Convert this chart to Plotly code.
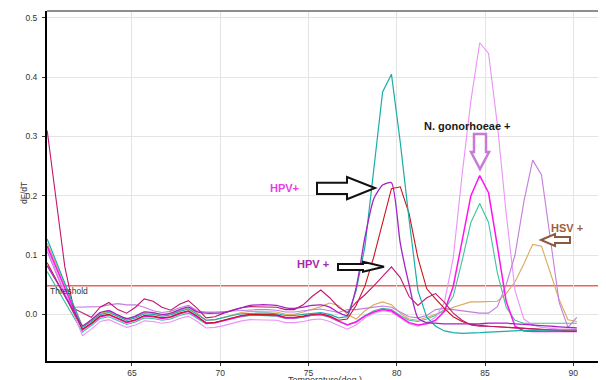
import plotly.graph_objects as go

# ---------------- data ----------------
temperature = [60.2, 60.7, 61.2, 61.7, 62.2, 62.7, 63.2, 63.7, 64.2, 64.7,
               65.2, 65.7, 66.2, 66.7, 67.2, 67.7, 68.2, 68.7, 69.2, 69.7,
               70.2, 70.7, 71.2, 71.7, 72.2, 72.7, 73.2, 73.7, 74.2, 74.7,
               75.2, 75.7, 76.2, 76.7, 77.2, 77.7, 78.2, 78.7, 79.2, 79.7,
               80.2, 80.7, 81.2, 81.7, 82.2, 82.7, 83.2, 83.7, 84.2, 84.7,
               85.2, 85.7, 86.2, 86.7, 87.2, 87.7, 88.2, 88.7, 89.2, 89.7, 90.2]

tan_hsv = [0.120, 0.085, 0.050, 0.015, -0.020, -0.010, 0.002, 0.005, -0.002, -0.008,
           -0.004, 0.003, 0.002, -0.001, 0.001, 0.007, 0.011, 0.002, -0.010, -0.009,
           -0.005, -0.001, 0.003, 0.005, 0.005, 0.005, 0.004, 0.000, 0.000, 0.004,
           0.008, 0.013, 0.019, 0.015, 0.000, -0.008, 0.006, 0.016, 0.021, 0.016,
           0.002, -0.008, -0.010, -0.005, 0.000, 0.005, 0.012, 0.017, 0.021, 0.021,
           0.021, 0.022, 0.035, 0.055, 0.085, 0.118, 0.115, 0.068, 0.025, -0.009, -0.012]

seagreen = [0.072, 0.047, 0.021, -0.005, -0.030, -0.019, -0.007, -0.004, -0.011, -0.017,
            -0.013, -0.006, -0.007, -0.010, -0.008, -0.002, 0.002, -0.007, -0.016, -0.014,
            -0.010, -0.006, -0.004, -0.002, -0.002, -0.002, -0.003, -0.007, -0.007, -0.005,
            -0.002, -0.001, -0.005, -0.012, -0.018, -0.012, -0.002, 0.006, 0.010, 0.008,
            -0.002, -0.010, -0.012, -0.008, -0.002, 0.008, 0.030, 0.090, 0.155, 0.187,
            0.155, 0.070, 0.012, -0.010, -0.015, -0.015, -0.015, -0.015, -0.015, -0.015, -0.015]

violet = [0.110, 0.074, 0.037, 0.000, -0.036, -0.025, -0.012, -0.009, -0.016, -0.022,
          -0.018, -0.011, -0.012, -0.015, -0.013, -0.007, -0.003, -0.012, -0.023, -0.022,
          -0.019, -0.015, -0.011, -0.009, -0.009, -0.009, -0.010, -0.014, -0.014, -0.012,
          -0.009, -0.008, -0.012, -0.019, -0.025, -0.018, -0.006, 0.002, 0.006, 0.004,
          -0.006, -0.016, -0.020, -0.014, -0.005, 0.020, 0.095, 0.235, 0.360, 0.458,
          0.440, 0.320, 0.170, 0.040, -0.008, -0.018, -0.022, -0.024, -0.025, -0.025, -0.025]

medium_purple = [0.106, 0.070, 0.033, 0.012, 0.012, 0.012, 0.013, 0.016, 0.018, 0.016,
                 0.016, 0.012, 0.006, 0.003, 0.005, 0.011, 0.015, 0.006, 0.004, 0.004,
                 0.005, 0.006, 0.007, 0.008, 0.008, 0.008, 0.007, 0.004, 0.004, 0.006,
                 0.008, 0.009, 0.006, 0.003, 0.008, 0.008, 0.010, 0.012, 0.014, 0.012,
                 0.004, -0.004, -0.006, -0.002, 0.008, 0.010, 0.008, 0.006, 0.004, 0.002,
                 0.002, 0.013, 0.050, 0.100, 0.190, 0.260, 0.235, 0.130, 0.020, -0.022, -0.005]

magenta = [0.115, 0.080, 0.045, 0.009, -0.026, -0.016, -0.004, -0.001, -0.008, -0.014,
           -0.010, -0.003, -0.004, -0.007, -0.005, 0.001, 0.005, -0.004, -0.014, -0.014,
           -0.011, -0.007, -0.003, -0.001, -0.001, -0.001, -0.002, -0.006, -0.006, -0.004,
           -0.001, 0.000, -0.004, -0.011, -0.018, -0.013, -0.003, 0.004, 0.008, 0.006,
           -0.004, -0.014, -0.018, -0.016, -0.010, 0.005, 0.047, 0.125, 0.200, 0.234,
           0.205, 0.115, 0.022, -0.020, -0.028, -0.029, -0.029, -0.029, -0.029, -0.029, -0.029]

dark_red = [0.087, 0.059, 0.031, 0.003, -0.025, -0.015, -0.003, 0.000, -0.007, -0.013,
            -0.009, -0.002, -0.003, -0.006, -0.004, 0.002, 0.006, -0.003, -0.015, -0.014,
            -0.010, -0.006, -0.002, 0.000, 0.000, 0.000, -0.001, -0.005, -0.005, -0.003,
            0.000, 0.001, -0.003, -0.010, -0.008, 0.015, 0.048, 0.097, 0.155, 0.212,
            0.215, 0.170, 0.095, 0.043, 0.026, 0.010, -0.004, -0.012, -0.017, -0.019,
            -0.020, -0.021, -0.022, -0.022, -0.023, -0.024, -0.025, -0.026, -0.027, -0.028, -0.028]

dark_magenta = [0.310, 0.195, 0.080, 0.010, 0.002, -0.005, 0.012, 0.020, 0.008, 0.002,
                0.012, 0.026, 0.022, 0.012, 0.007, 0.017, 0.023, 0.010, -0.006, -0.004,
                0.002, 0.007, 0.011, 0.013, 0.013, 0.013, 0.012, 0.008, 0.008, 0.016,
                0.030, 0.041, 0.028, 0.012, 0.003, 0.020, 0.033, 0.048, 0.064, 0.080,
                0.062, 0.030, 0.015, 0.028, 0.035, 0.020, 0.002, -0.010, -0.018, -0.020,
                -0.020, -0.021, -0.022, -0.022, -0.023, -0.024, -0.025, -0.026, -0.027, -0.028, -0.028]

teal = [0.127, 0.090, 0.053, 0.015, -0.022, -0.012, 0.000, 0.003, -0.004, -0.010,
        -0.006, 0.001, 0.000, -0.003, -0.001, 0.005, 0.009, 0.000, -0.010, -0.009,
        -0.005, -0.002, 0.001, 0.002, 0.002, 0.002, 0.001, -0.002, -0.002, 0.000,
        0.002, 0.003, 0.000, -0.006, -0.004, 0.040, 0.114, 0.240, 0.375, 0.405,
        0.290, 0.160, 0.040, -0.005, -0.020, -0.028, -0.031, -0.032, -0.032, -0.031,
        -0.030, -0.029, -0.028, -0.028, -0.027, -0.027, -0.027, -0.027, -0.026, -0.026, -0.026]

purple_hpv = [0.082, 0.057, 0.031, 0.006, -0.019, -0.009, 0.003, 0.006, -0.001, -0.007,
              -0.003, 0.004, 0.003, 0.000, 0.002, 0.008, 0.012, 0.004, 0.002, 0.002,
              0.003, 0.007, 0.011, 0.015, 0.016, 0.016, 0.015, 0.011, 0.010, 0.012,
              0.015, 0.016, 0.012, 0.003, -0.002, 0.045, 0.130, 0.195, 0.218, 0.222,
              0.120, 0.050, -0.006, -0.014, -0.015, -0.016, -0.016, -0.016, -0.016, -0.016,
              -0.015, -0.015, -0.015, -0.016, -0.017, -0.018, -0.019, -0.020, -0.021, -0.022, -0.023]

threshold = 0.048
x_ticks = [65, 70, 75, 80, 85, 90]
y_ticks = [0.0, 0.1, 0.2, 0.3, 0.4, 0.5]

series = [
    ("tan", tan_hsv, "#d8aa5a", 1.1, "linear"),
    ("seagreen", seagreen, "#3fc29b", 1.1, "linear"),
    ("violet", violet, "#ea92f6", 1.1, "linear"),
    ("medium purple", medium_purple, "#c47ddc", 1.1, "linear"),
    ("magenta", magenta, "#ff14f0", 1.5, "linear"),
    ("dark red", dark_red, "#c8141c", 1.1, "linear"),
    ("dark magenta", dark_magenta, "#c0186e", 1.1, "linear"),
    ("teal", teal, "#19aea6", 1.2, "linear"),
    ("purple", purple_hpv, "#a424c2", 1.3, "spline"),
]

# ---------------- figure ----------------
# The page body adds an 8px margin, so the figure is sized/shifted to compensate.
OFF = 8
PAGE_W, PAGE_H = 606, 380
W, H = PAGE_W - OFF, PAGE_H - OFF
L, R, T, B = 47, 604, 11, 361      # plot area in page pixels
FONT = "Liberation Sans, Arial, sans-serif"


def px(x):
    return (x - L) / (R - L)


def py(y):
    return (B - y) / (B - T)


def poly(points):
    return "M " + " L ".join(f"{px(a):.5f},{py(b):.5f}" for a, b in points) + " Z"


fig = go.Figure()
for name, vals, color, width, shape in series:
    fig.add_trace(go.Scatter(x=temperature, y=vals, mode="lines", name=name,
                             line=dict(color=color, width=width, shape=shape,
                                       smoothing=0.6 if shape == "spline" else None),
                             showlegend=False, hoverinfo="skip"))

shapes = [
    dict(type="line", xref="paper", yref="y", x0=0, x1=1, y0=threshold, y1=threshold,
         line=dict(color="#f06262", width=1.5), layer="below"),
    dict(type="line", xref="paper", yref="paper", x0=0, x1=1, y0=1, y1=1,
         line=dict(color="#6a6a6a", width=1.5)),
    dict(type="line", xref="paper", yref="paper", x0=1, x1=1, y0=0, y1=1,
         line=dict(color="#444444", width=1.5)),
    # outlined arrows
    dict(type="path", xref="paper", yref="paper",
         path=poly([(317, 182.7), (347, 182.7), (347, 177), (375, 188), (347, 199.3), (347, 194), (317, 194)]),
         line=dict(color="#111111", width=2), fillcolor="white"),
    dict(type="path", xref="paper", yref="paper",
         path=poly([(338, 264), (363, 264), (363, 261.7), (384, 266.7), (363, 271.7), (363, 270), (338, 270)]),
         line=dict(color="#111111", width=2), fillcolor="white"),
    dict(type="path", xref="paper", yref="paper",
         path=poly([(474, 134), (486, 134), (486, 152), (489, 152), (480, 169), (471, 152), (474, 152)]),
         line=dict(color="#c87ad8", width=2.5), fillcolor="white"),
    dict(type="path", xref="paper", yref="paper",
         path=poly([(541, 240), (555, 234), (555, 237), (570, 237), (570, 243), (555, 243), (555, 246)]),
         line=dict(color="#8b5a3c", width=2), fillcolor="white"),
]


def label(text, x, y, color, size, xanchor="center", angle=0, bold=False):
    return dict(text=f"<b>{text}</b>" if bold else text, x=px(x), y=py(y),
                xref="paper", yref="paper", showarrow=False, xanchor=xanchor,
                yanchor="middle", textangle=angle,
                font=dict(family=FONT, size=size, color=color))


annotations = [
    label("HPV+", 284, 188, "#e63ee6", 11, bold=True),
    label("HPV +", 313, 264, "#a42aa8", 11, bold=True),
    label("N. gonorhoeae +", 467, 126, "#1a1a1a", 11, bold=True),
    label("HSV +", 567, 228, "#a0603a", 11, bold=True),
    label("Threshold", 48, 291, "#333333", 8.5, xanchor="left"),
    label("dF/dT", 24, 193, "#333333", 8.5, angle=-90),
    label("Temperature(deg.)", 325, 380.5, "#333333", 9),
]

fig.update_layout(
    width=W, height=H,
    margin=dict(l=L - OFF, r=W - (R - OFF), t=T - OFF, b=H - (B - OFF), pad=0),
    paper_bgcolor="white", plot_bgcolor="white",
    shapes=shapes, annotations=annotations,
    font=dict(family=FONT, size=8.5, color="#333333"),
    xaxis=dict(range=[60.19, 91.74], tickmode="array", tickvals=x_ticks,
               ticktext=[str(v) for v in x_ticks],
               showgrid=True, gridcolor="#e4e4e4", gridwidth=1, zeroline=False,
               showline=True, linecolor="black", linewidth=2,
               ticks="outside", ticklen=3, tickcolor="#333333",
               tickfont=dict(family=FONT, size=8.5, color="#333333")),
    yaxis=dict(range=[-0.0787, 0.5115], tickmode="array", tickvals=y_ticks,
               ticktext=[f"{v:.1f}" for v in y_ticks],
               showgrid=True, gridcolor="#e4e4e4", gridwidth=1, zeroline=False,
               showline=True, linecolor="black", linewidth=2,
               ticks="outside", ticklen=3, tickcolor="#333333",
               ticklabelstandoff=3,
               tickfont=dict(family=FONT, size=8.5, color="#333333")),
)

fig.write_html("out.html")
